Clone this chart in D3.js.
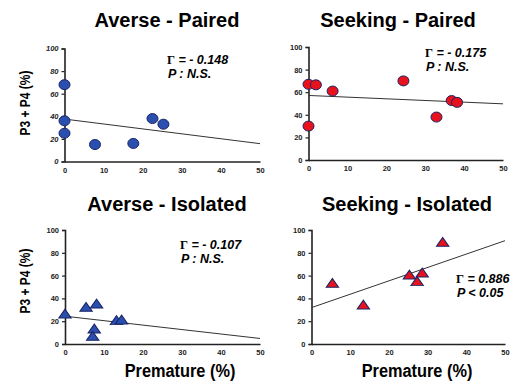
<!DOCTYPE html>
<html>
<head>
<meta charset="utf-8">
<script src="https://cdn.jsdelivr.net/npm/d3@7"></script>
<style>
  body { margin: 0; background: #fff; }
  svg { font-family: "Liberation Sans", Arial, sans-serif; }
</style>
</head>
<body>
<div id="chart"></div>
<script>
// values: [premature %, P3+P4 %]
const aversePaired = [[0, 68], [0, 36], [0, 25], [7.8, 15], [17.6, 16], [22.5, 38], [25.3, 33]];
const seekingPaired = [[0, 30], [0, 67], [1.9, 66.5], [6.2, 61], [24.4, 70], [32.9, 38], [36.8, 52.6], [38.2, 51]];
const averseIsolated = [[0, 25.4], [5.4, 31.3], [8.1, 34.2], [7.5, 12.3], [7.1, 5.8], [13.2, 19.6], [14.5, 20.2]];
const seekingIsolated = [[5.4, 52.3], [13.4, 33.3], [25.3, 59.6], [27.3, 53.8], [28.6, 61.4], [33.9, 88.3]];

const titles = ["Averse - Paired", "Seeking - Paired", "Averse - Isolated", "Seeking - Isolated"];
const rText = ["- 0.148", "- 0.175", "- 0.107", "0.886"];
const pText = ["P : N.S.", "P : N.S.", "P : N.S.", "P < 0.05"];
const xTicks = [0, 10, 20, 30, 40, 50];
const yTicks = [0, 20, 40, 60, 80, 100];

const W = 520, H = 381;
const svg = d3.select("#chart").append("svg").attr("width", W).attr("height", H);

const blue = "#2b4fae", red = "#e8121d", edge = "#1a2466";

const panels = [
  { data: aversePaired, x0: 64.5, x1: 260, y0: 161.5, y1: 48.5, titleX: 167, titleY: 27, shape: "circle", fill: blue,
    stat: [167, 64], italicY: true },
  { data: seekingPaired, x0: 308.5, x1: 503, y0: 160, y1: 47, titleX: 398, titleY: 27, shape: "circle", fill: red,
    stat: [425, 57] },
  { data: averseIsolated, x0: 65, x1: 260, y0: 344, y1: 230, titleX: 167, titleY: 211, shape: "tri", fill: blue,
    stat: [180, 249] },
  { data: seekingIsolated, x0: 311.5, x1: 505, y0: 344, y1: 230, titleX: 407, titleY: 211, shape: "tri", fill: red,
    stat: [456, 283] }
];

function fit(data) {
  const mx = d3.mean(data, d => d[0]), my = d3.mean(data, d => d[1]);
  const sxy = d3.sum(data, d => (d[0] - mx) * (d[1] - my));
  const sxx = d3.sum(data, d => (d[0] - mx) ** 2);
  const b = sxy / sxx;
  return { a: my - b * mx, b: b };
}

panels.forEach((p, i) => {
  const x = d3.scaleLinear().domain([0, 50]).range([p.x0, p.x1]);
  const y = d3.scaleLinear().domain([0, 100]).range([p.y0, p.y1]);
  const g = svg.append("g");

  g.append("text").attr("x", p.titleX).attr("y", p.titleY)
    .attr("text-anchor", "middle").attr("font-size", 20).attr("font-weight", "bold")
    .attr("fill", "#000").text(titles[i]);

  // axes
  const ax = g.append("g").attr("transform", `translate(0,${p.y0})`)
    .call(d3.axisBottom(x).tickValues(xTicks).tickSize(0).tickPadding(6));
  const ay = g.append("g").attr("transform", `translate(${p.x0},0)`)
    .call(d3.axisLeft(y).tickValues(yTicks).tickSize(3).tickPadding(3));
  [ax, ay].forEach(a => {
    a.select(".domain").attr("stroke", "#222").attr("stroke-width", 1.6);
    a.selectAll(".tick line").attr("stroke", "#222").attr("stroke-width", 1.2);
    a.selectAll("text").attr("font-size", 7.5).attr("font-weight", "bold").attr("fill", "#222");
  });
  if (p.italicY) ay.selectAll("text").attr("font-style", "italic");

  // regression line
  const f = fit(p.data);
  g.append("line")
    .attr("x1", x(0)).attr("y1", y(f.a))
    .attr("x2", x(50)).attr("y2", y(f.a + f.b * 50))
    .attr("stroke", "#333").attr("stroke-width", 1);

  // points
  if (p.shape === "circle") {
    g.selectAll("ellipse").data(p.data).enter().append("ellipse")
      .attr("cx", d => x(d[0])).attr("cy", d => y(d[1]))
      .attr("rx", 5.5).attr("ry", 5)
      .attr("fill", p.fill).attr("stroke", edge).attr("stroke-width", 1);
  } else {
    const tri = d3.symbol().type(d3.symbolTriangle).size(50);
    g.selectAll("path.pt").data(p.data).enter().append("path").attr("class", "pt")
      .attr("d", tri)
      .attr("transform", d => `translate(${x(d[0])},${y(d[1])}) scale(1.15,0.95)`)
      .attr("fill", p.fill).attr("stroke", edge).attr("stroke-width", 1);
  }

  // statistics
  const st = g.append("text").attr("x", p.stat[0]).attr("y", p.stat[1])
    .attr("font-size", 12.5).attr("font-weight", "bold").attr("font-style", "italic").attr("fill", "#000");
  st.append("tspan").attr("font-family", "Liberation Serif, serif").attr("font-style", "normal").text("Γ");
  st.append("tspan").text(" = " + rText[i]);
  g.append("text").attr("x", p.stat[0] + 1).attr("y", p.stat[1] + 14)
    .attr("font-size", 12.5).attr("font-weight", "bold").attr("font-style", "italic").attr("fill", "#000")
    .text(pText[i]);
});

// axis titles
[103, 281].forEach(cy => {
  svg.append("text").attr("transform", `translate(30,${cy}) rotate(-90) scale(0.92,1.08)`)
    .attr("text-anchor", "middle").attr("font-size", 13).attr("font-weight", "bold").attr("fill", "#000")
    .text("P3 + P4 (%)");
});
[[180, 377], [417, 377]].forEach(([cx, cy]) => {
  svg.append("text").attr("transform", `translate(${cx},${cy}) scale(0.86,1)`)
    .attr("text-anchor", "middle").attr("font-size", 19).attr("font-weight", "bold").attr("fill", "#000")
    .text("Premature (%)");
});
</script>
</body>
</html>
